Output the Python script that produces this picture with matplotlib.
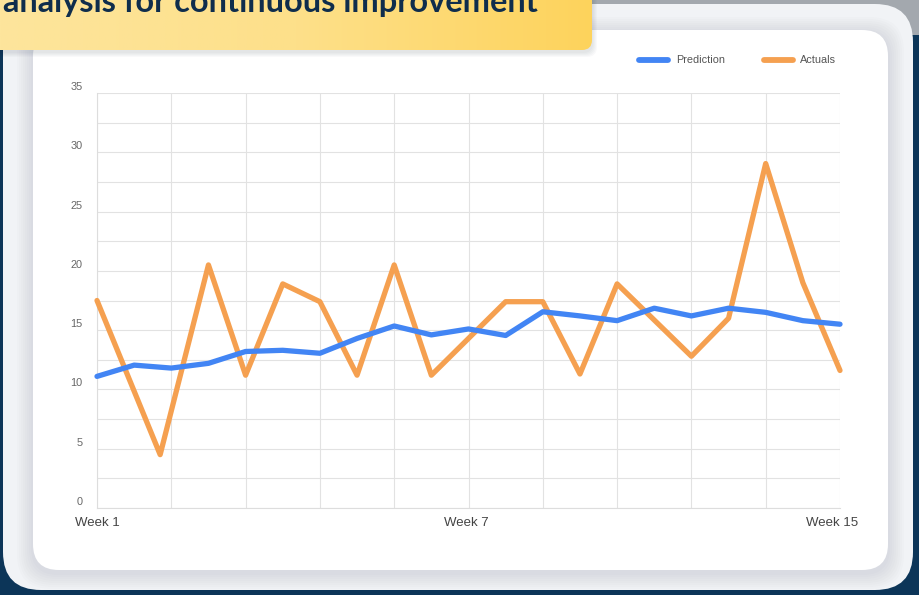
import matplotlib
matplotlib.use("Agg")
import matplotlib.pyplot as plt
import numpy as np
from matplotlib.patches import FancyBboxPatch, Rectangle
from matplotlib.lines import Line2D
from matplotlib.colors import LinearSegmentedColormap
import matplotlib.transforms as mtransforms

# ---------------- data ----------------
n_points = 21
tick_positions = [0, 10, 20]
tick_labels = ["Week 1", "Week 7", "Week 15"]

prediction = [11.1, 12.05, 11.8, 12.2, 13.2, 13.3, 13.05, 14.3, 15.35, 14.6, 15.1,
              14.55, 16.55, 16.2, 15.8, 16.85, 16.2, 16.85, 16.5, 15.8, 15.5]

actuals_x = [0, 1.7, 3, 4, 5, 6, 7, 8, 9, 11, 12, 13, 14, 16, 17, 18, 19, 20]
actuals = [17.5, 4.5, 20.5, 11.2, 18.9, 17.4, 11.2, 20.5, 11.2, 17.4, 17.4, 11.3,
           18.9, 12.8, 16.0, 29.05, 19.0, 11.6]

series_names = ["Prediction", "Actuals"]
blue = "#4285f4"
orange = "#f5a050"
navy = "#0c3558"
banner_text = "analysis for continuous improvement"

W, H = 919, 595
fig = plt.figure(figsize=(W / 100, H / 100), dpi=100)
fig.patch.set_facecolor(navy)

# background axes in pixel coordinates (y downward)
bg = fig.add_axes([0, 0, 1, 1], zorder=0)
bg.set_xlim(0, W)
bg.set_ylim(H, 0)
bg.axis("off")

# blurred grey image area top-right
bg.add_patch(Rectangle((450, -5), 480, 40, facecolor="#a3a8ae", edgecolor="none"))

# outer panel
bg.add_patch(FancyBboxPatch((3 + 38, 4 + 38), 913 - 3 - 76, 590 - 4 - 76,
                            boxstyle="round,pad=38", facecolor="#f1f3f6",
                            edgecolor="none"))

# card shadow (soft)
for i in range(8):
    g = 8 - i
    bg.add_patch(FancyBboxPatch((33 + 26 - g, 30 + 26 - g + 3), 855 - 52 + 2 * g, 540 - 52 + 2 * g,
                                boxstyle="round,pad=%d" % (26 + g), facecolor="#1a2a40",
                                edgecolor="none", alpha=0.012))
# card
bg.add_patch(FancyBboxPatch((33 + 26, 30 + 26), 855 - 52, 540 - 52,
                            boxstyle="round,pad=26", facecolor="white",
                            edgecolor="none"))

# banner shadow
for i in range(5):
    g = 5 - i
    bg.add_patch(FancyBboxPatch((-20, -30), 612 - 10 + g, 80 - 10 + g + 2,
                                boxstyle="round,pad=10", facecolor="#1a2a40",
                                edgecolor="none", alpha=0.025))
# banner with gradient
banner = FancyBboxPatch((-20, -30), 612 - 10, 80 - 10, boxstyle="round,pad=10",
                        facecolor="none", edgecolor="none")
bg.add_patch(banner)
grad = np.linspace(0, 1, 256).reshape(1, -1)
cmap = LinearSegmentedColormap.from_list("ban", ["#fde59c", "#fde08a", "#fed35c"])
im = bg.imshow(grad, extent=[0, 592, 50, -40], cmap=cmap, aspect="auto", zorder=1)
im.set_clip_path(banner)
bg.set_xlim(0, W)
bg.set_ylim(H, 0)

t = bg.text(3, 12, banner_text, fontsize=20, fontweight="bold", family="Lato",
            color="#0f2d4c", va="baseline", ha="left", zorder=3)
fig.canvas.draw()
bb = t.get_window_extent()
t.set_fontsize(20 * 534 / bb.width)

# legend (manual, in pixel coords)
bg.add_line(Line2D([639, 668], [60, 60], color=blue, lw=4.2, solid_capstyle="round", zorder=3))
bg.text(676, 60, series_names[0], fontsize=7.8, family="Liberation Sans", color="#555555",
        va="center", ha="left", zorder=3)
bg.add_line(Line2D([764, 793], [60, 60], color=orange, lw=4.2, solid_capstyle="round", zorder=3))
bg.text(800, 60, series_names[1], fontsize=7.8, family="Liberation Sans", color="#555555",
        va="center", ha="left", zorder=3)

# ---------------- main chart ----------------
left, right, top, bottom = 97, 840, 93, 508
ax = fig.add_axes([left / W, 1 - bottom / H, (right - left) / W, (bottom - top) / H], zorder=2)
ax.patch.set_alpha(0)
x = np.arange(n_points)
ax.plot(x, prediction, color=blue, lw=3.8, solid_joinstyle="round",
        solid_capstyle="round", zorder=4, clip_on=False)
ax.plot(actuals_x, actuals, color=orange, lw=3.8, solid_joinstyle="round",
        solid_capstyle="round", zorder=3, clip_on=False)

ax.set_xlim(0, n_points - 1)
ax.set_ylim(0, 35)
ax.set_yticks(np.arange(0, 36, 5))
ax.set_yticks(np.arange(2.5, 35, 5), minor=True)
ax.set_xticks(tick_positions)
ax.set_xticklabels(tick_labels)
ax.set_xticks(np.arange(0, n_points, 2), minor=True)
ax.grid(True, which="both", color="#e2e2e2", lw=0.8)
ax.set_axisbelow(True)
for s in ["top", "right"]:
    ax.spines[s].set_visible(False)
for s in ["left", "bottom"]:
    ax.spines[s].set_color("#dddddd")
    ax.spines[s].set_linewidth(0.8)
ax.tick_params(axis="both", which="both", length=0)
ax.tick_params(axis="y", pad=10.5, labelsize=7.8, labelcolor="#666666")
ax.tick_params(axis="x", pad=6.5, labelsize=9.5, labelcolor="#444444")
for lab in ax.get_yticklabels() + ax.get_xticklabels():
    lab.set_family("Liberation Sans")
off = mtransforms.ScaledTranslation(0, 5 / 72, fig.dpi_scale_trans)
for lab in ax.get_yticklabels():
    lab.set_transform(lab.get_transform() + off)
xl = ax.get_xticklabels()
xl[-1].set_transform(xl[-1].get_transform() +
                     mtransforms.ScaledTranslation(-8 / 100, 0, fig.dpi_scale_trans))
xl[1].set_transform(xl[1].get_transform() +
                    mtransforms.ScaledTranslation(-2 / 100, 0, fig.dpi_scale_trans))

fig.savefig("out.png", dpi=100, facecolor=fig.get_facecolor())
